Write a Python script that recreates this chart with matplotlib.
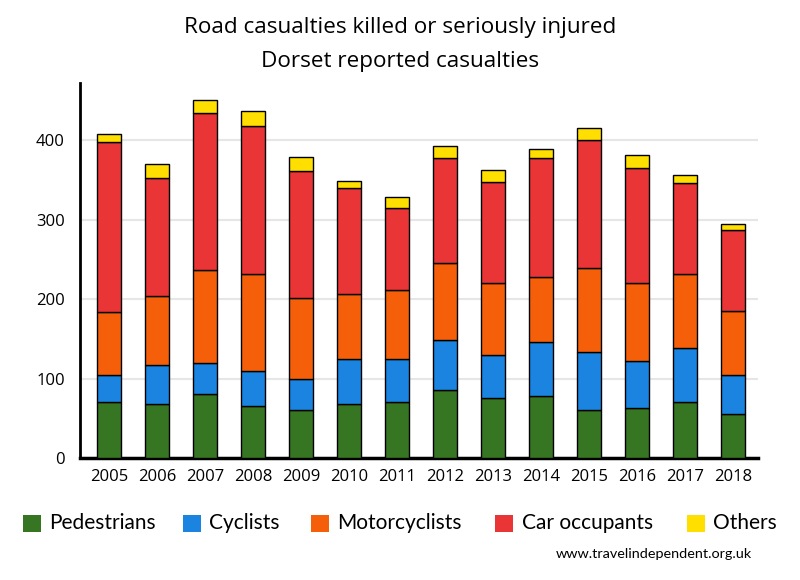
import matplotlib.pyplot as plt
from matplotlib.patches import Rectangle
import numpy as np

years = ['2005', '2006', '2007', '2008', '2009', '2010', '2011',
         '2012', '2013', '2014', '2015', '2016', '2017', '2018']
pedestrians = [71, 68, 81, 65, 60, 68, 71, 85, 76, 78, 61, 63, 70, 55]
cyclists = [33, 49, 38, 44, 40, 56, 53, 63, 54, 68, 72, 59, 68, 49]
motorcyclists = [80, 87, 117, 122, 102, 83, 87, 97, 90, 82, 106, 98, 93, 81]
car_occupants = [214, 149, 198, 187, 159, 133, 104, 132, 127, 150, 161, 145, 115, 102]
others = [10, 17, 17, 19, 18, 9, 14, 16, 15, 11, 15, 16, 10, 7]

series = [('Pedestrians', pedestrians, '#367522'),
          ('Cyclists', cyclists, '#1b84e0'),
          ('Motorcyclists', motorcyclists, '#f55f0a'),
          ('Car occupants', car_occupants, '#e93535'),
          ('Others', others, '#ffdf00')]

W, H = 800, 580
fig = plt.figure(figsize=(8, 5.8), dpi=100)
ax = fig.add_axes([0.1, 0.2103, 0.8475, 0.6467])

x = np.arange(len(years))
bottom = np.zeros(len(years))
for name, vals, col in series:
    ax.bar(x, vals, 0.5, bottom=bottom, color=col, edgecolor='black',
           linewidth=1, label=name, zorder=3)
    bottom += np.array(vals)

ax.set_xlim(-0.604, 13.52)
ax.set_ylim(0, 472)
ax.set_yticks([0, 100, 200, 300, 400])
ax.set_xticks(x)
ax.set_xticklabels(years)
ax.yaxis.grid(True, color='#e6e6e6', linewidth=1.5, zorder=0)
ax.set_axisbelow(True)
for s in ['top', 'right']:
    ax.spines[s].set_visible(False)
ax.spines['left'].set_linewidth(2)
ax.spines['bottom'].set_linewidth(2.5)
ax.tick_params(length=0, labelsize=12, pad=8)
ax.tick_params(axis='y', pad=11)
for lab in ax.get_xticklabels() + ax.get_yticklabels():
    lab.set_fontfamily('Open Sans')

fig.text(0.5, 1 - 28 / H, 'Road casualties killed or seriously injured', ha='center',
         va='center', fontsize=16.2, family='Open Sans')
fig.text(0.5, 1 - 61 / H, 'Dorset reported casualties', ha='center',
         va='center', fontsize=16.2, family='Open Sans')

# legend laid out by hand to match the original spacing
sq_left = [22.7, 182.7, 310.7, 495, 686.7]
for (name, vals, col), px in zip(series, sq_left):
    fig.add_artist(Rectangle((px / W, 1 - 532 / H), 18 / W, 17 / H,
                             transform=fig.transFigure, facecolor=col,
                             edgecolor='none'))
    fig.text((px + 26.5) / W, 1 - 523 / H, name, ha='left', va='center',
             fontsize=15, family='Lato')

fig.text(752 / W, 1 - 554 / H, 'www.travelindependent.org.uk', ha='right',
         va='center', fontsize=10.4, family='Lato')

fig.savefig('out.png', dpi=100)
